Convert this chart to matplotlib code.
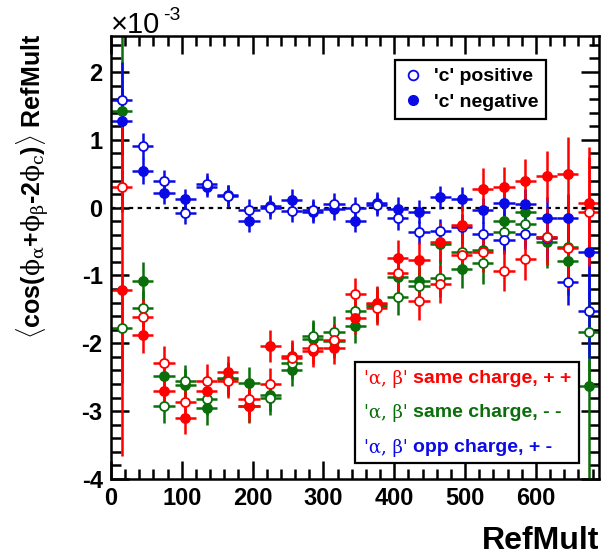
import matplotlib
matplotlib.use("Agg")
import matplotlib.pyplot as plt
from matplotlib.lines import Line2D
from matplotlib.patches import Rectangle
from matplotlib.ticker import MultipleLocator

plt.rcParams['font.family'] = ['Liberation Sans', 'DejaVu Sans']
plt.rcParams['axes.unicode_minus'] = False
plt.rcParams['mathtext.fontset'] = 'custom'
plt.rcParams['mathtext.rm'] = 'Liberation Sans:bold'
plt.rcParams['mathtext.bf'] = 'Liberation Sans:bold'
plt.rcParams['mathtext.it'] = 'DejaVu Serif'

# RefMult bin centres
refmult = [15, 45, 75, 105, 135, 165, 195, 225, 255, 285, 315, 345,
           375, 405, 435, 465, 495, 525, 555, 585, 615, 645, 675]
bin_half = 15

# values in units of 1e-3
c_pos = [1.59, 0.91, 0.40, -0.08, 0.35, 0.17, -0.03, -0.01, -0.05, -0.04, 0.06, 0.00,
         0.04, -0.16, -0.36, -0.34, -0.28, -0.39, -0.48, -0.39, -0.45, -1.09, -1.52]
c_pos_err = [0.55, 0.19, 0.16, 0.16, 0.16, 0.16, 0.16, 0.16, 0.16, 0.16, 0.16, 0.16,
             0.16, 0.17, 0.17, 0.17, 0.18, 0.18, 0.2, 0.22, 0.3, 0.35, 0.7]
c_neg = [1.27, 0.54, 0.21, 0.12, 0.31, 0.18, -0.20, 0.03, 0.11, -0.06, -0.02, -0.20,
         0.07, -0.02, -0.06, 0.15, 0.13, -0.04, 0.07, 0.06, -0.15, -0.15, -0.65]
c_neg_err = [0.5, 0.19, 0.16, 0.16, 0.16, 0.16, 0.16, 0.16, 0.16, 0.16, 0.16, 0.16,
             0.16, 0.17, 0.17, 0.17, 0.18, 0.18, 0.2, 0.22, 0.3, 0.35, 0.7]

pp_neg = [-1.21, -1.88, -2.70, -3.10, -2.70, -2.43, -2.92, -2.04, -2.19, -2.11, -2.07, -1.62,
          -1.41, -0.74, -0.77, -0.51, -0.26, 0.28, 0.30, 0.39, 0.46, 0.49, 0.07]
pp_neg_err = [2.45, 0.26, 0.25, 0.24, 0.24, 0.24, 0.24, 0.24, 0.24, 0.24, 0.24, 0.25,
              0.25, 0.26, 0.27, 0.28, 0.28, 0.3, 0.3, 0.32, 0.38, 0.55, 0.82]
pp_pos = [0.30, -1.61, -2.29, -2.87, -2.55, -2.56, -2.82, -2.60, -2.22, -2.07, -1.95, -1.28,
          -1.48, -0.97, -1.38, -1.13, -0.70, -0.65, -0.93, -0.75, -0.43, -0.60, -0.06]
pp_pos_err = [0.25, 0.26, 0.25, 0.24, 0.24, 0.24, 0.24, 0.24, 0.24, 0.24, 0.24, 0.25,
              0.25, 0.26, 0.27, 0.28, 0.28, 0.3, 0.3, 0.32, 0.42, 0.6, 0.8]

mm_neg = [1.43, -1.08, -2.48, -2.62, -2.96, -2.51, -2.59, -2.76, -2.39, -1.93, -1.97, -1.75,
          -1.42, -1.02, -1.08, -0.54, -0.90, -0.63, -0.20, -0.06, -0.51, -0.79, -2.63]
mm_neg_err = [1.5, 0.28, 0.25, 0.24, 0.24, 0.24, 0.24, 0.24, 0.24, 0.24, 0.24, 0.25,
              0.25, 0.26, 0.27, 0.28, 0.28, 0.3, 0.3, 0.32, 0.38, 0.5, 1.4]
mm_pos = [-1.78, -1.48, -2.92, -2.56, -2.82, -2.53, -2.93, -2.81, -2.29, -1.89, -1.83, -1.53,
          -1.45, -1.32, -1.16, -1.03, -0.66, -0.82, -0.36, -0.24, -0.43, -0.58, -1.83]
mm_pos_err = [0.8, 0.26, 0.25, 0.24, 0.24, 0.24, 0.24, 0.24, 0.24, 0.24, 0.24, 0.25,
              0.25, 0.26, 0.27, 0.28, 0.28, 0.3, 0.3, 0.32, 0.4, 0.5, 0.8]

red = '#ff0000'
green = '#0a6e0a'
blue = '#0a0ae6'

fig = plt.figure(figsize=(6.01, 5.56), dpi=100)
ax = fig.add_axes([111 / 601, 77 / 556, 488 / 601, 443 / 556])

def draw(y, err, col, filled):
    ax.errorbar(refmult, y, xerr=bin_half, yerr=err, fmt='o', color=col,
                mfc=col if filled else 'white', mec=col, ms=6.5, mew=1.3,
                elinewidth=1.8, capsize=0)

draw(mm_neg, mm_neg_err, green, True)
draw(mm_pos, mm_pos_err, green, False)
draw(c_neg, c_neg_err, blue, True)
draw(c_pos, c_pos_err, blue, False)
draw(pp_neg, pp_neg_err, red, True)
draw(pp_pos, pp_pos_err, red, False)

ax.axhline(0, color='black', ls=(0, (2, 2)), lw=1.6, zorder=1)

ax.set_xlim(0, 689)
ax.set_ylim(-4, 2.53)
ax.xaxis.set_major_locator(MultipleLocator(100))
ax.xaxis.set_minor_locator(MultipleLocator(20))
ax.yaxis.set_major_locator(MultipleLocator(1))
ax.yaxis.set_minor_locator(MultipleLocator(0.2))
ax.tick_params(which='both', direction='in', top=True, right=True, width=1.8,
               labelsize=17, pad=6)
ax.tick_params(which='major', length=13)
ax.tick_params(which='minor', length=7)
for lab in ax.get_xticklabels() + ax.get_yticklabels():
    lab.set_fontweight('bold')
for s in ax.spines.values():
    s.set_linewidth(1.8)

ax.set_xlabel('RefMult', fontsize=23, fontweight='bold', loc='right')
ax.set_ylabel(r'$\langle$cos($\phi_{\alpha}$+$\phi_{\beta}$-2$\phi_{c}$)$\rangle$ RefMult',
              fontsize=18, fontweight='bold', loc='top')
ax.xaxis.set_label_coords(1.0, -0.105)
ax.yaxis.set_label_coords(-0.122, 1.005)

# exponent marker
fig.text(111 / 601, 1 - 33 / 556, '×10', fontsize=21, va='baseline')
fig.text(163 / 601, 1 - 20 / 556, '-3', fontsize=14, va='baseline')

handles = [Line2D([], [], ls='none', marker='o', color=blue, mfc='white', mew=1.3, ms=7),
           Line2D([], [], ls='none', marker='o', color=blue, ms=7)]
leg = ax.legend(handles, ["'c' positive", "'c' negative"], loc='upper left',
                bbox_to_anchor=(0.582, 0.946), borderaxespad=0, fancybox=False,
                edgecolor='black', framealpha=1, prop={'weight': 'bold', 'size': 14},
                handlelength=1.0, handletextpad=0.6, labelspacing=0.42, borderpad=0.4)
leg.get_frame().set_linewidth(1.6)

ax.add_patch(Rectangle((0.5, 0.036), 0.459, 0.228, transform=ax.transAxes,
                       fill=True, fc='white', ec='black', lw=1.6, zorder=5))
rows = [("same charge, + +", red, 0.226), ("same charge, - -", green, 0.149),
        ("opp charge, + -", blue, 0.070)]
for txt, col, yy in rows:
    ax.text(0.519, yy, "'α, β'", color=col, fontsize=13,
            family='DejaVu Serif', transform=ax.transAxes, va='center', zorder=6)
    ax.text(0.618, yy, txt, color=col, fontsize=14, fontweight='bold',
            transform=ax.transAxes, va='center', zorder=6)

fig.savefig('out.png', dpi=100)
